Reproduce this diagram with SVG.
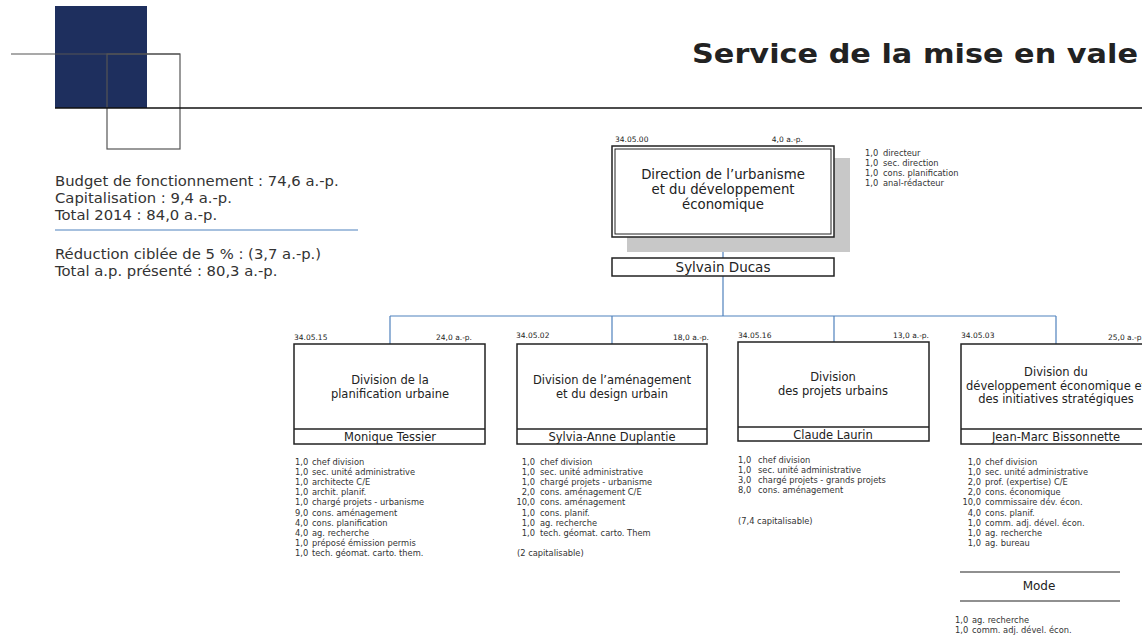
<svg xmlns="http://www.w3.org/2000/svg" width="1142" height="636" viewBox="0 0 1142 636">
<style>
.t{font-family:"DejaVu Sans",Verdana,sans-serif;fill:#222}
.box{fill:#fff;stroke:#222;stroke-width:1.5}
.ttl{font-size:11.5px;text-anchor:middle}
.nm{font-size:11.5px;text-anchor:middle}
.code{font-size:7.5px;fill:#222}
.sm{font-size:8.3px;fill:#333}
.bud{font-size:14.8px;fill:#333}
.conn{stroke:#4f81bd;stroke-width:1.2;fill:none}
</style>
<rect width="1142" height="636" fill="#fff"/>
<g id="logo">
<rect x="55" y="6" width="92" height="102" fill="#1e2f5e"/>
<line x1="11" y1="54" x2="180" y2="54" stroke="#555" stroke-width="1.2"/>
<rect x="107" y="54" width="73" height="95" fill="none" stroke="#555" stroke-width="1.2"/>
<line x1="55" y1="108" x2="1142" y2="108" stroke="#111" stroke-width="1.5"/>
</g>
<text id="title" class="t" x="692" y="63" font-size="27" font-weight="bold" textLength="446" lengthAdjust="spacingAndGlyphs" fill="#1a1a1a">Service de la mise en vale</text>
<g id="budget">
<text class="t bud" x="55" y="186">Budget de fonctionnement : 74,6 a.-p.</text>
<text class="t bud" x="55" y="203">Capitalisation : 9,4 a.-p.</text>
<text class="t bud" x="55" y="220">Total 2014 : 84,0 a.-p.</text>
<line x1="55" y1="230" x2="358" y2="230" stroke="#4f81bd" stroke-width="1.2"/>
<text class="t bud" x="55" y="259">Réduction ciblée de 5 % : (3,7 a.-p.)</text>
<text class="t bud" x="55" y="276">Total a.p. présenté : 80,3 a.-p.</text>
</g>
<g id="connectors">
<line class="conn" x1="723" y1="237" x2="723" y2="258"/>
<line class="conn" x1="723" y1="276" x2="723" y2="316"/>
<line class="conn" x1="390" y1="316" x2="1056" y2="316"/>
<line class="conn" x1="390" y1="316" x2="390" y2="344"/>
<line class="conn" x1="612" y1="316" x2="612" y2="344"/>
<line class="conn" x1="834" y1="316" x2="834" y2="342"/>
<line class="conn" x1="1056" y1="316" x2="1056" y2="344"/>
</g>
<g id="direction">
<rect x="627" y="158" width="223" height="94" fill="#c8c8c8"/>
<rect x="612" y="146" width="222" height="91" fill="#fff" stroke="#222" stroke-width="1.5"/>
<rect x="615" y="149" width="216" height="85" fill="none" stroke="#222" stroke-width="1"/>
<text class="t code" x="615" y="142">34.05.00</text>
<text class="t code" x="803" y="142" text-anchor="end">4,0 a.-p.</text>
<text class="t" x="723" y="179" font-size="13.3" text-anchor="middle">Direction de l’urbanisme</text>
<text class="t" x="723" y="194" font-size="13.3" text-anchor="middle">et du développement</text>
<text class="t" x="723" y="209" font-size="13.3" text-anchor="middle">économique</text>
<g class="t sm">
<text x="865" y="156">1,0</text><text x="883" y="156">directeur</text>
<text x="865" y="166">1,0</text><text x="883" y="166">sec. direction</text>
<text x="865" y="176">1,0</text><text x="883" y="176">cons. planification</text>
<text x="865" y="186">1,0</text><text x="883" y="186">anal-rédacteur</text>
</g>
</g>
<g id="ducas">
<rect class="box" x="612" y="258" width="222" height="18"/>
<text class="t" x="723" y="271.5" font-size="13.5" text-anchor="middle">Sylvain Ducas</text>
</g>
<g id="div1">
<text class="t code" x="294" y="340">34.05.15</text>
<text class="t code" x="472" y="340" text-anchor="end">24,0 a.-p.</text>
<rect class="box" x="294" y="344" width="191" height="100"/>
<line x1="294" y1="429" x2="485" y2="429" stroke="#222" stroke-width="1.5"/>
<text class="t ttl" x="390" y="384">Division de la</text>
<text class="t ttl" x="390" y="397.5">planification urbaine</text>
<text class="t nm" x="390" y="441">Monique Tessier</text>
<g class="t sm">
<text x="295" y="465">1,0</text><text x="312" y="465">chef division</text>
<text x="295" y="475.1">1,0</text><text x="312" y="475.1">sec. unité administrative</text>
<text x="295" y="485.2">1,0</text><text x="312" y="485.2">architecte C/E</text>
<text x="295" y="495.3">1,0</text><text x="312" y="495.3">archit. planif.</text>
<text x="295" y="505.4">1,0</text><text x="312" y="505.4">chargé projets - urbanisme</text>
<text x="295" y="515.5">9,0</text><text x="312" y="515.5">cons. aménagement</text>
<text x="295" y="525.6">4,0</text><text x="312" y="525.6">cons. planification</text>
<text x="295" y="535.7">4,0</text><text x="312" y="535.7">ag. recherche</text>
<text x="295" y="545.8">1,0</text><text x="312" y="545.8">préposé émission permis</text>
<text x="295" y="555.9">1,0</text><text x="312" y="555.9">tech. géomat. carto. them.</text>
</g>
</g>
<g id="div2">
<text class="t code" x="516" y="338">34.05.02</text>
<text class="t code" x="709" y="340" text-anchor="end">18,0 a.-p.</text>
<rect class="box" x="517" y="344" width="190" height="100"/>
<line x1="517" y1="429" x2="707" y2="429" stroke="#222" stroke-width="1.5"/>
<text class="t ttl" x="612" y="384">Division de l’aménagement</text>
<text class="t ttl" x="612" y="397.5">et du design urbain</text>
<text class="t nm" x="612" y="441">Sylvia-Anne Duplantie</text>
<g class="t sm">
<g text-anchor="end">
<text x="535" y="465">1,0</text><text x="535" y="475.1">1,0</text><text x="535" y="485.2">1,0</text><text x="535" y="495.3">2,0</text>
<text x="535" y="505.4">10,0</text><text x="535" y="515.5">1,0</text><text x="535" y="525.6">1,0</text><text x="535" y="535.7">1,0</text>
</g>
<text x="540" y="465">chef division</text>
<text x="540" y="475.1">sec. unité administrative</text>
<text x="540" y="485.2">chargé projets - urbanisme</text>
<text x="540" y="495.3">cons. aménagement C/E</text>
<text x="540" y="505.4">cons. aménagement</text>
<text x="540" y="515.5">cons. planif.</text>
<text x="540" y="525.6">ag. recherche</text>
<text x="540" y="535.7">tech. géomat. carto. Them</text>
<text x="517" y="556">(2 capitalisable)</text>
</g>
</g>
<g id="div3">
<text class="t code" x="738" y="338">34.05.16</text>
<text class="t code" x="929" y="338" text-anchor="end">13,0 a.-p.</text>
<rect class="box" x="738" y="342" width="191" height="99"/>
<line x1="738" y1="427" x2="929" y2="427" stroke="#222" stroke-width="1.5"/>
<text class="t ttl" x="833" y="381">Division</text>
<text class="t ttl" x="833" y="395">des projets urbains</text>
<text class="t nm" x="833" y="438.5">Claude Laurin</text>
<g class="t sm">
<text x="738" y="463">1,0</text><text x="758" y="463">chef division</text>
<text x="738" y="473">1,0</text><text x="758" y="473">sec. unité administrative</text>
<text x="738" y="483">3,0</text><text x="758" y="483">chargé projets - grands projets</text>
<text x="738" y="493">8,0</text><text x="758" y="493">cons. aménagement</text>
<text x="738" y="524">(7,4 capitalisable)</text>
</g>
</g>
<g id="div4">
<text class="t code" x="961" y="338">34.05.03</text>
<text class="t code" x="1108" y="340">25,0 a.-p.</text>
<rect class="box" x="961" y="344" width="191" height="100"/>
<line x1="961" y1="429" x2="1152" y2="429" stroke="#222" stroke-width="1.5"/>
<text class="t ttl" x="1056" y="376">Division du</text>
<text class="t ttl" x="1056" y="389.5">développement économique et</text>
<text class="t ttl" x="1056" y="403">des initiatives stratégiques</text>
<text class="t nm" x="1056" y="441">Jean-Marc Bissonnette</text>
<g class="t sm">
<g text-anchor="end">
<text x="981" y="465">1,0</text><text x="981" y="475.1">1,0</text><text x="981" y="485.2">2,0</text><text x="981" y="495.3">2,0</text>
<text x="981" y="505.4">10,0</text><text x="981" y="515.5">4,0</text><text x="981" y="525.6">1,0</text><text x="981" y="535.7">1,0</text><text x="981" y="545.8">1,0</text>
</g>
<text x="985" y="465">chef division</text>
<text x="985" y="475.1">sec. unité administrative</text>
<text x="985" y="485.2">prof. (expertise) C/E</text>
<text x="985" y="495.3">cons. économique</text>
<text x="985" y="505.4">commissaire dév. écon.</text>
<text x="985" y="515.5">cons. planif.</text>
<text x="985" y="525.6">comm. adj. dével. écon.</text>
<text x="985" y="535.7">ag. recherche</text>
<text x="985" y="545.8">ag. bureau</text>
</g>
</g>
<g id="mode">
<line x1="960" y1="572" x2="1120" y2="572" stroke="#222" stroke-width="1.2"/>
<line x1="960" y1="601" x2="1120" y2="601" stroke="#222" stroke-width="1.2"/>
<text class="t" x="1039" y="590" font-size="12" text-anchor="middle">Mode</text>
<g class="t sm">
<text x="955" y="623">1,0</text><text x="972" y="623">ag. recherche</text>
<text x="955" y="633">1,0</text><text x="972" y="633">comm. adj. dével. écon.</text>
</g>
</g>
</svg>
